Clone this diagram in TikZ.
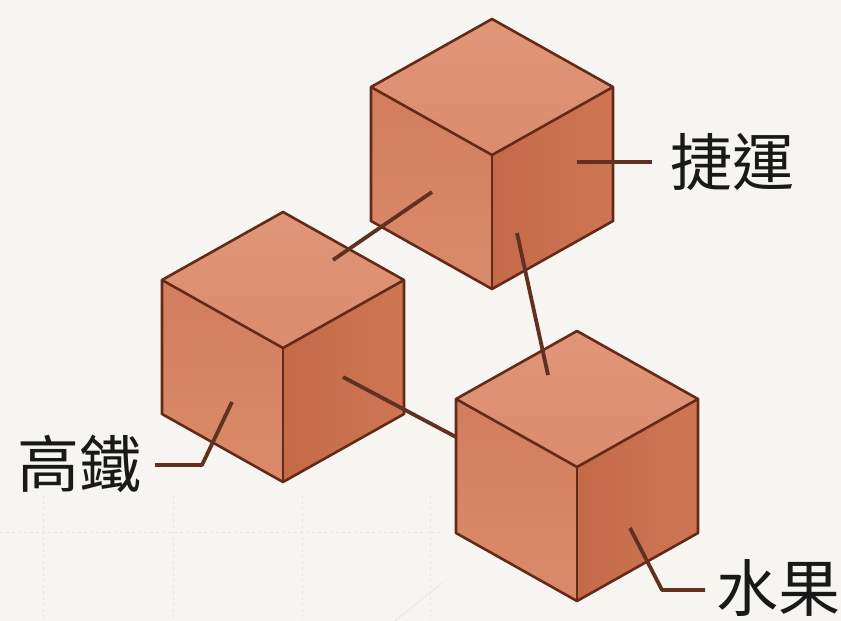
\documentclass[tikz,border=0pt]{standalone}
\usepackage{fontspec}
\newfontfamily\cjk{Noto Sans CJK TC}
\definecolor{fondo}{RGB}{246,245,241}
\definecolor{rejilla}{RGB}{231,230,226}
\definecolor{borde}{RGB}{100,42,24}
\definecolor{linea}{RGB}{96,48,33}
\definecolor{texto}{RGB}{25,25,25}
\definecolor{caraSup}{RGB}{219,140,109}
\definecolor{caraSupB}{RGB}{224,150,120}
\definecolor{caraIzq}{RGB}{210,126,94}
\definecolor{caraIzqB}{RGB}{218,138,106}
\definecolor{caraDer}{RGB}{196,106,72}
\definecolor{caraDerB}{RGB}{206,118,84}

\begin{document}
\begin{tikzpicture}[x=1pt, y=-1pt,
    arista/.style={draw=borde, line width=2.6pt, line join=round},
    enlace/.style={draw=linea, line width=3.8pt},
    etiqueta/.style={font=\cjk\fontsize{62}{68}\selectfont, text=texto, inner sep=0pt}]
    % Fondo y rejilla tenue
    \fill[fondo] (0,0) rectangle (841,621);
    \useasboundingbox (0,0) rectangle (841,621);
    \foreach \x in {43, 173, 302, 430} {
      \draw[rejilla, dashed, line width=1pt] (\x, 495) -- (\x, 621);
    }
    \draw[rejilla, dashed, line width=1pt] (0, 532) -- (440, 532);
    \draw[rejilla, line width=0.8pt] (395, 621) -- (442, 583);

    % Cubos (vertice frontal en cx, cy)
    \foreach \cx/\cy/\nombre in {492/155/metro, 283/348/tren, 577/467/fruta} {
      \coordinate (\nombre) at (\cx, \cy);
      \fill[top color=caraSupB, bottom color=caraSup]
           (\cx, \cy) -- (\cx-121, \cy-68) -- (\cx, \cy-136) -- (\cx+121, \cy-68) -- cycle;
      \fill[top color=caraIzq, bottom color=caraIzqB]
           (\cx, \cy) -- (\cx-121, \cy-68) -- (\cx-121, \cy+66) -- (\cx, \cy+134) -- cycle;
      \fill[left color=caraDer, right color=caraDerB]
           (\cx, \cy) -- (\cx+121, \cy-68) -- (\cx+121, \cy+66) -- (\cx, \cy+134) -- cycle;
      \draw[arista] (\cx, \cy-136) -- (\cx-121, \cy-68) -- (\cx-121, \cy+66) -- (\cx, \cy+134)
                    -- (\cx+121, \cy+66) -- (\cx+121, \cy-68) -- cycle;
      \draw[arista] (\cx-121, \cy-68) -- (\cx, \cy) -- (\cx+121, \cy-68);
      \draw[arista] (\cx, \cy) -- (\cx, \cy+134);
    }

    % Puntos de enlace sobre las caras
    \coordinate (metro-izq) at (432, 192);
    \coordinate (metro-der) at (517, 233);
    \coordinate (metro-lat) at (577, 162);
    \coordinate (tren-sup) at (333, 260);
    \coordinate (tren-der) at (343, 377);
    \coordinate (tren-izq) at (232, 402);
    \coordinate (fruta-sup) at (548, 375);
    \coordinate (fruta-borde) at (456, 437);
    \coordinate (fruta-der) at (630, 528);

    % Enlaces entre cubos
    \draw[enlace] (metro-izq) -- (tren-sup);
    \draw[enlace] (metro-der) -- (fruta-sup);
    \draw[enlace] (tren-der) -- (fruta-borde);

    % Etiquetas
    \node[etiqueta, anchor=west] (lblMetro) at (670, 162) {捷運};
    \node[etiqueta, anchor=east] (lblTren) at (142, 464) {高鐵};
    \node[etiqueta, anchor=west] (lblFruta) at (716, 588) {水果};
    \draw[enlace, line join=round] (metro-lat) -- (lblMetro.west -| 652, 0);
    \draw[enlace, line join=round] (tren-izq) -- (202, 465) -- (155, 465);
    \draw[enlace, line join=round] (fruta-der) -- (662, 590) -- (705, 590);
\end{tikzpicture}
\end{document}
